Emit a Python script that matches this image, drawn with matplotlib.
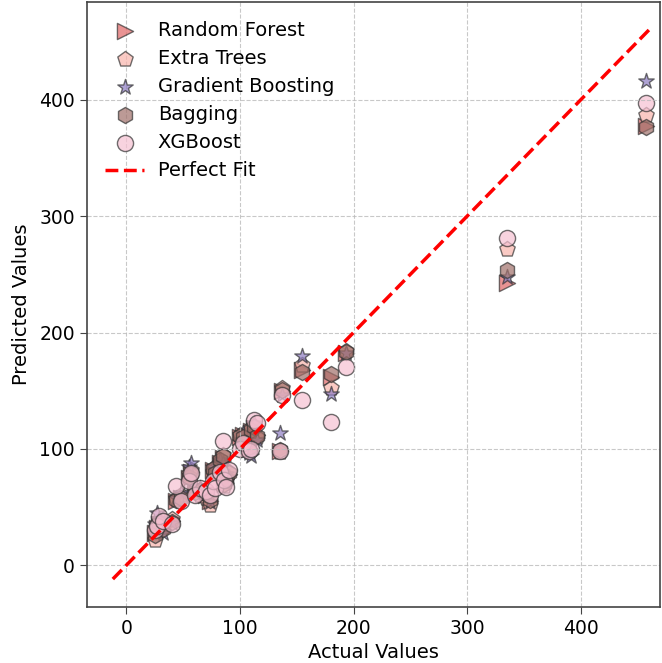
import matplotlib
matplotlib.use("Agg")
import matplotlib.pyplot as plt

# actual target values (shared by all models)
y_true = [25, 27, 29, 32, 40, 44, 48, 55, 57, 60, 65, 70, 74, 76, 78, 82, 85,
          86, 88, 90, 100, 103, 108, 110, 112, 115, 135, 137, 155, 180, 193,
          335, 458]

pred_rf = [28, 32, 35, 30, 38, 55, 58, 75, 80, 62, 64, 60, 55, 82, 80, 88, 92,
           70, 75, 78, 110, 112, 100, 115, 118, 112, 98, 150, 168, 162, 182,
           243, 378]
pred_et = [22, 30, 38, 33, 40, 57, 60, 78, 82, 65, 60, 58, 52, 80, 84, 85, 95,
           68, 72, 80, 112, 108, 98, 118, 120, 110, 97, 152, 172, 152, 184,
           272, 387]
pred_gb = [35, 45, 40, 28, 36, 58, 62, 84, 88, 68, 66, 62, 54, 84, 82, 90, 88,
           72, 78, 76, 106, 114, 96, 94, 122, 108, 114, 146, 180, 147, 182,
           248, 416]
pred_bag = [26, 33, 36, 31, 37, 56, 58, 76, 79, 63, 65, 61, 56, 83, 79, 90, 94,
            70, 74, 79, 111, 110, 102, 116, 119, 111, 99, 151, 166, 164, 183,
            254, 377]
pred_xgb = [30, 34, 42, 38, 35, 68, 55, 72, 79, 60, 66, 64, 60, 72, 66, 80, 107,
            73, 67, 82, 100, 105, 98, 100, 125, 122, 98, 146, 142, 123, 170,
            281, 397]

models = ["Random Forest", "Extra Trees", "Gradient Boosting", "Bagging", "XGBoost"]
preds = [pred_rf, pred_et, pred_gb, pred_bag, pred_xgb]
markers = [">", "p", "*", "h", "o"]
colors = ["#e06666", "#f8b4ac", "#8e7cc3", "#a0706a", "#f6c1d2"]

fig = plt.figure(figsize=(6.62, 6.63), dpi=100)
ax = fig.add_axes([0.131, 0.0845, 0.866, 0.912])

for name, p, m, c in zip(models, preds, markers, colors):
    ax.scatter(y_true, p, marker=m, s=135, color=c, alpha=0.7,
               edgecolors="#333333", linewidths=1.0, label=name)

ax.plot([-12, 462], [-12, 462], color="red", linestyle="--", linewidth=2.5,
        label="Perfect Fit")

ax.set_xlim(-35, 470)
ax.set_ylim(-36, 484)
ax.set_xticks([0, 100, 200, 300, 400])
ax.set_yticks([0, 100, 200, 300, 400])
ax.tick_params(labelsize=13.5, length=5, color="#444444")
for sp in ax.spines.values():
    sp.set_color("#444444")
    sp.set_linewidth(1.2)
ax.set_xlabel("Actual Values", fontsize=14)
ax.set_ylabel("Predicted Values", fontsize=14, labelpad=6)
ax.grid(True, linestyle="--", color="#bbbbbb", alpha=0.8)
ax.legend(loc="upper left", fontsize=14, frameon=False,
          borderaxespad=0.55, labelspacing=0.47, handletextpad=0.7)

fig.savefig("out.png", dpi=100)
